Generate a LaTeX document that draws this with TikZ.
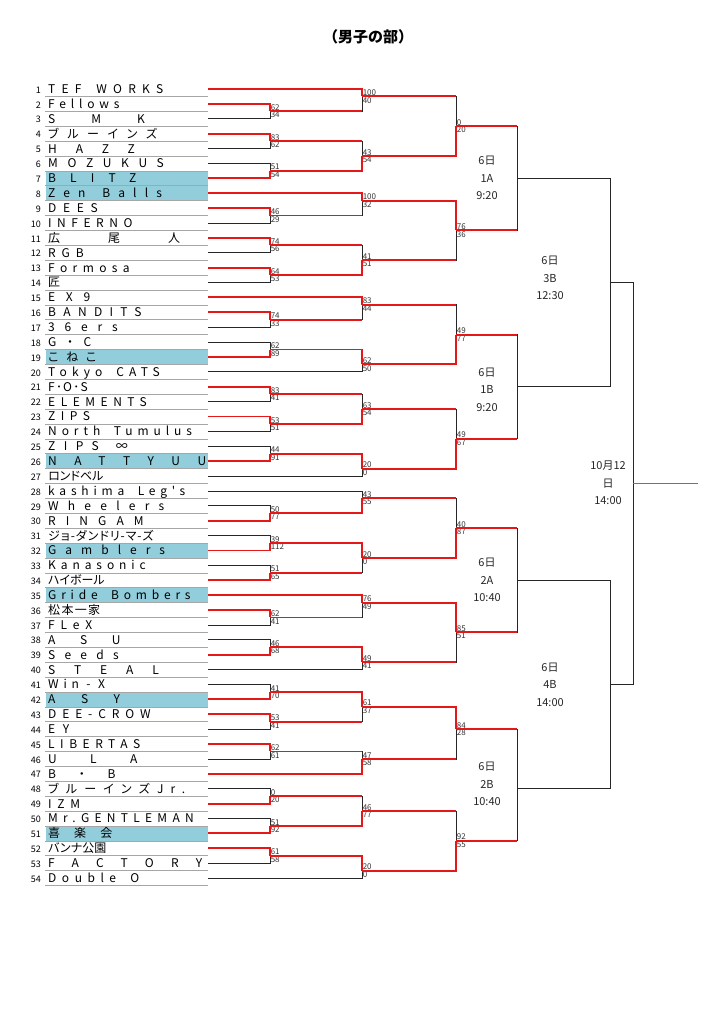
\documentclass[tikz,border=0pt]{standalone}
\usepackage{fontspec}
\setmainfont{Noto Sans CJK JP}
\newfontfamily\namefont{Noto Sans CJK JP}[RawFeature=+palt]
\definecolor{winred}{RGB}{228,24,24}
\definecolor{seedcyan}{RGB}{146,205,220}
% red part of one arm: 0 none, 1 arm only, 2 arm and vertical
\newcommand\arm[3]{\ifcase#1 \or\draw[win] (#2) -- (#2 -| #3);\or\draw[win] (#2) -| (#3);\fi}
\newcommand\wgap{\hspace{0.5em}}
\begin{document}
\begin{tikzpicture}[x=1pt, y=-14.887pt,
    arm/.style={draw=black!85, line width=0.8pt},
    win/.style={draw=winred, line width=1.9pt},
    rule/.style={draw=black!35, line width=0.6pt},
    seed/.style={fill=seedcyan},
    num/.style={anchor=base east, inner sep=0pt, font=\fontsize{9}{9}\selectfont},
    team/.style={anchor=base west, inner sep=0pt},
    ls/.style={font={\namefont\addfontfeatures{LetterSpace=#1}\fontsize{12}{12}\selectfont}},
    score/.style={inner sep=0.6pt, font=\fontsize{8}{8}\selectfont, text=black!80},
    rnd/.style={align=center, font=\fontsize{11}{17.5}\selectfont, text=black!85}
]
    \useasboundingbox (0,-4.978) rectangle (724,63.806);

    % --- title ---
    \node[font=\fontsize{15}{15}\selectfont\bfseries] (title) at (368,-2.5) {（男子の部）};

    % --- seeded rows ---
    \foreach \i in {7,8,19,26,32,35,42,51}
        \fill[seed] (46,\i-0.5) rectangle (208,\i+0.5);

    % --- team list ---
    \foreach \i/\nm/\s in {1/TEF \wgap WORKS/52, 2/Fellows/40, 3/SMK/300, 4/ブルーインズ/72,
        5/HAZZ/157, 6/MOZUKUS/81, 7/BLITZ/118, 8/Zen \wgap Balls/68, 9/DEES/56,
        10/INFERNO/46, 11/広尾人/400, 12/RGB/49, 13/Formosa/45, 14/匠/0,
        15/EX9/89, 16/BANDITS/61, 17/36ers/82, 18/G・C/88, 19/こねこ/64,
        20/Tokyo \wgap CATS/43, 21/F･O･S/10, 22/ELEMENTS/46, 23/ZIPS/46,
        24/North \wgap Tumulus/41, 25/ZIPS \wgap ∞/70, 26/NATTYUU/146, 27/ロンドベル/0,
        28/kashima \wgap Leg's/40, 29/Wheelers/77, 30/RINGAM/84,
        31/ジョ-ダンドリ-マ-ズ/8, 32/Gamblers/75, 33/Kanasonic/41,
        34/ハイボール/0, 35/Gride \wgap Bombers/40, 36/松本一家/11, 37/FLeX/49,
        38/ASU/205, 39/Seeds/77, 40/STEAL/158, 41/Win - X/40, 42/ASY/213,
        43/DEE-CROW/49, 44/EY/63, 45/LIBERTAS/46, 46/ULA/278, 47/B・B/190,
        48/ブルーインズJr./60, 49/IZM/48, 50/Mr.GENTLEMAN/44, 51/喜楽会/117,
        52/バンナ公園/0, 53/FACTORY/144, 54/Double \wgap O/46}
    {
        \node[num] (n\i) at (41,\i+0.28) {\i};
        \node[team, ls=\s] (t\i) at (48,\i+0.3) {\nm};
        \coordinate (e\i) at (208,\i);
        \draw[rule] (45,\i+0.5) -- (208,\i+0.5);
    }

    % --- played games: name/x/row/top/bottom/score/score/red top/red bottom ---
    \def\games{m1/270/2.5/e2/e3/62/34/2/0, m2/362/1.5/e1/m1/100/40/2/1,
        m3/270/4.5/e4/e5/83/62/2/0, m4/270/6.5/e6/e7/51/54/0/2,
        m5/362/5.5/m3/m4/43/54/1/2, m6/456/3.5/m2/m5/0/20/1/2,
        m7/270/9.5/e9/e10/46/29/2/0, m8/362/8.5/e8/m7/100/32/2/1,
        m9/270/11.5/e11/e12/74/56/2/0, m10/270/13.5/e13/e14/64/53/2/0,
        m11/362/12.5/m9/m10/41/51/1/2, m12/456/10.5/m8/m11/76/36/2/1,
        m14/270/16.5/e16/e17/74/33/2/0, m15/362/15.5/e15/m14/83/44/2/1,
        m16/270/18.5/e18/e19/62/89/0/2, m17/362/19.5/m16/e20/62/50/2/0,
        m18/456/17.5/m15/m17/49/77/1/2, m19/270/21.5/e21/e22/83/41/2/0,
        m20/270/23.5/e23/e24/53/51/2/0, m21/362/22.5/m19/m20/63/54/1/2,
        m22/270/25.5/e25/e26/44/91/0/2, m23/362/26.5/m22/e27/20/0/2/0,
        m24/456/24.5/m21/m23/49/67/1/2,
        m27/270/29.5/e29/e30/50/77/0/2, m28/362/28.5/e28/m27/43/55/0/2,
        m29/270/31.5/e31/e32/39/112/0/2, m30/270/33.5/e33/e34/51/65/0/2,
        m31/362/32.5/m29/m30/20/0/2/1, m32/456/30.5/m28/m31/40/87/1/2,
        m33/270/36.5/e36/e37/62/41/2/0, m34/362/35.5/e35/m33/76/49/2/1,
        m35/270/38.5/e38/e39/46/68/0/2, m36/362/39.5/m35/e40/49/41/2/0,
        m37/456/37.5/m34/m36/85/51/2/1,
        m39/270/41.5/e41/e42/41/70/0/2, m40/270/43.5/e43/e44/53/41/2/0,
        m41/362/42.5/m39/m40/61/37/2/1, m42/270/45.5/e45/e46/62/61/2/0,
        m43/362/46/m42/e47/47/58/1/2, m44/456/44/m41/m43/84/28/2/1,
        m45/270/48.5/e48/e49/0/20/0/2, m46/270/50.5/e50/e51/51/92/0/2,
        m47/362/49.5/m45/m46/46/77/1/2, m48/270/52.5/e52/e53/61/58/2/0,
        m49/362/53.5/m48/e54/20/0/2/0, m50/456/51.5/m47/m49/92/55/1/2}

    \foreach \m/\x/\r/\a/\b/\sa/\sb/\ca/\cb in \games {
        \coordinate (\m) at (\x,\r);
        \draw[arm] (\a) -| (\m) (\b) -| (\m);
        \node[score, anchor=south west] (\m-a) at (\m) {\sa};
        \node[score, anchor=north west] (\m-b) at (\m) {\sb};
    }
    \foreach \m/\x/\r/\a/\b/\sa/\sb/\ca/\cb in \games {
        \arm{\ca}{\a}{\m} \arm{\cb}{\b}{\m}
    }

    % --- games still to play ---
    \foreach \m/\x/\r/\a/\b/\ca/\cb in {m13/517/7/m6/m12/1/1, m25/517/21/m18/m24/1/1,
        m38/517/34/m32/m37/1/1, m51/517/48/m44/m50/1/1,
        m26/610/14/m13/m25/0/0, m52/610/41/m38/m51/0/0, m53/633/27.5/m26/m52/0/0}
    {
        \coordinate (\m) at (\x,\r);
        \draw[arm] (\a) -| (\m) (\b) -| (\m);
        \arm{\ca}{\a}{\m} \arm{\cb}{\b}{\m}
    }
    \coordinate (champ) at (698,27.5);
    \draw[arm, draw=black!55] (m53) -- (champ);

    \node[rnd] (d1a) at (487,7) {6日\\1A\\9:20};
    \node[rnd] (d1b) at (487,21.2) {6日\\1B\\9:20};
    \node[rnd] (d2a) at (487,34) {6日\\2A\\10:40};
    \node[rnd] (d2b) at (487,47.7) {6日\\2B\\10:40};
    \node[rnd] (d3b) at (550,13.7) {6日\\3B\\12:30};
    \node[rnd] (d4b) at (550,41) {6日\\4B\\14:00};
    \node[rnd] (dfin) at (608,27.45) {10月12\\日\\14:00};
\end{tikzpicture}
\end{document}
